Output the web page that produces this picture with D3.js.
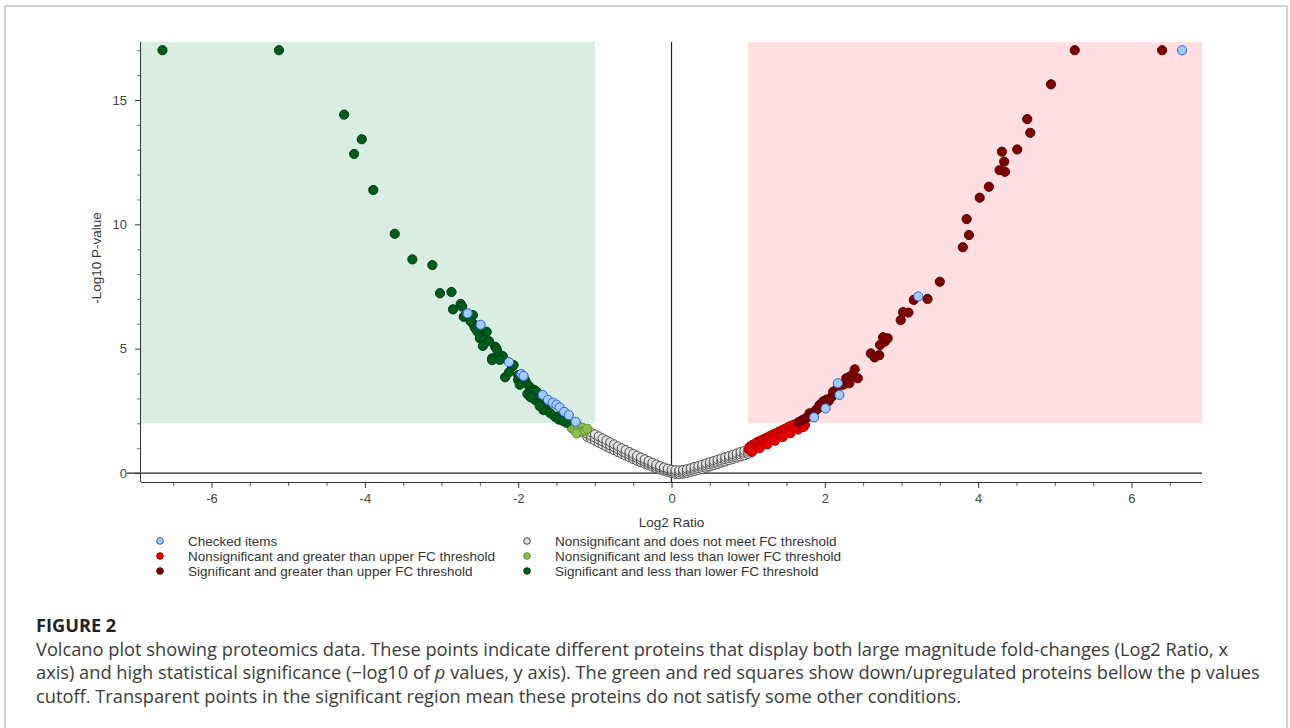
<!DOCTYPE html>
<html>
<head>
<meta charset="utf-8">
<script src="https://cdn.jsdelivr.net/npm/d3@7"></script>
<style>
  body { margin: 0; background: #fff; }
  svg { display: block; }
  .tick text { font-family: "Liberation Sans", Arial, sans-serif; font-size: 13px; fill: #444; }
</style>
</head>
<body>
<svg id="chart"></svg>
<script>
// [log2 ratio, -log10 p]
const checkedItems = [
    [-2.66, 6.42], [-2.49, 5.96], [-2.12, 4.46], [-1.96, 3.98], [-1.93, 3.90],
    [-1.68, 3.14], [-1.61, 2.94], [-1.55, 2.83], [-1.50, 2.75], [-1.46, 2.64],
    [-1.40, 2.46], [-1.34, 2.33], [-1.25, 2.06],
    [1.86, 2.24], [2.01, 2.60], [2.19, 3.14], [2.17, 3.61], [3.22, 7.10], [6.66, 17.0]
];

const nsUpper = [
    [1.01, 0.95], [1.02, 1.06], [1.04, 0.92], [1.05, 1.12], [1.07, 0.99], [1.09, 1.18],
    [1.10, 1.04], [1.12, 1.25], [1.14, 1.10], [1.16, 1.30], [1.18, 1.16], [1.20, 1.36],
    [1.22, 1.22], [1.24, 1.42], [1.26, 1.28], [1.28, 1.48], [1.30, 1.34], [1.32, 1.55],
    [1.34, 1.40], [1.36, 1.60], [1.38, 1.46], [1.40, 1.66], [1.42, 1.52], [1.44, 1.72],
    [1.46, 1.58], [1.48, 1.78], [1.50, 1.64], [1.52, 1.84], [1.54, 1.70], [1.56, 1.90],
    [1.58, 1.76], [1.60, 1.95], [1.62, 1.82], [1.65, 1.98], [1.68, 1.88], [1.71, 1.96],
    [1.74, 1.93], [1.05, 0.85], [1.15, 1.00], [1.25, 1.15], [1.35, 1.30], [1.45, 1.45],
    [1.55, 1.60], [1.65, 1.75], [1.72, 1.85]
];

const sigUpper = [
    [1.66, 2.05], [1.70, 2.12], [1.74, 2.18], [1.78, 2.25], [1.80, 2.40], [1.84, 2.35],
    [1.87, 2.48], [1.89, 2.55], [1.92, 2.62], [1.93, 2.73], [1.96, 2.80], [1.98, 2.88],
    [2.02, 2.95], [2.05, 2.90], [2.07, 3.00], [2.10, 3.10], [2.11, 3.27], [2.15, 3.35],
    [2.24, 3.55], [2.28, 3.81], [2.32, 3.87], [2.32, 3.61], [2.36, 3.95], [2.39, 4.17],
    [2.43, 3.81], [2.60, 4.81], [2.65, 4.65], [2.71, 4.74], [2.72, 5.15], [2.76, 5.46],
    [2.78, 5.28], [2.82, 5.42], [2.99, 6.15], [3.02, 6.47], [3.09, 6.45], [3.16, 6.96],
    [3.34, 7.00], [3.50, 7.69], [3.80, 9.08], [3.85, 10.21], [3.88, 9.57], [4.02, 11.07],
    [4.14, 11.51], [4.28, 12.18], [4.35, 12.11], [4.31, 12.92], [4.34, 12.52], [4.51, 13.01],
    [4.64, 14.23], [4.68, 13.68], [4.95, 15.63], [5.26, 17.0], [6.40, 17.0]
];

// grey band: [x, lower edge, middle, upper edge] of the cloud of open circles
const nsNoneBand = [
    [-1.10, 1.45, 1.58, 1.72], [-1.05, 1.38, 1.50, 1.64], [-1.00, 1.30, 1.43, 1.56],
    [-0.95, 1.22, 1.35, 1.48], [-0.90, 1.14, 1.27, 1.40], [-0.85, 1.06, 1.19, 1.32],
    [-0.80, 0.99, 1.11, 1.24], [-0.75, 0.92, 1.04, 1.16], [-0.70, 0.84, 0.96, 1.08],
    [-0.65, 0.77, 0.89, 1.00], [-0.60, 0.70, 0.81, 0.93], [-0.55, 0.63, 0.74, 0.85],
    [-0.50, 0.56, 0.67, 0.78], [-0.45, 0.49, 0.60, 0.70], [-0.40, 0.43, 0.53, 0.63],
    [-0.35, 0.37, 0.46, 0.56], [-0.30, 0.31, 0.40, 0.49], [-0.25, 0.25, 0.34, 0.42],
    [-0.20, 0.19, 0.27, 0.35], [-0.15, 0.14, 0.21, 0.29], [-0.10, 0.09, 0.16, 0.23],
    [-0.05, 0.04, 0.11, 0.18], [0.00, 0.00, 0.07, 0.14], [0.05, -0.04, 0.04, 0.12],
    [0.10, -0.05, 0.03, 0.11], [0.15, -0.03, 0.05, 0.13], [0.20, 0.00, 0.08, 0.16],
    [0.25, 0.04, 0.12, 0.20], [0.30, 0.08, 0.16, 0.25], [0.35, 0.12, 0.20, 0.29],
    [0.40, 0.16, 0.25, 0.34], [0.45, 0.21, 0.30, 0.39], [0.50, 0.26, 0.35, 0.44],
    [0.55, 0.31, 0.40, 0.49], [0.60, 0.36, 0.45, 0.54], [0.65, 0.41, 0.50, 0.59],
    [0.70, 0.46, 0.55, 0.64], [0.75, 0.51, 0.60, 0.69], [0.80, 0.56, 0.65, 0.74],
    [0.85, 0.61, 0.70, 0.79], [0.90, 0.66, 0.75, 0.85], [0.95, 0.71, 0.81, 0.90],
    [1.00, 0.77, 0.86, 0.95]
];
const nsNone = nsNoneBand.flatMap(r => [[r[0], r[1]], [r[0], r[2]], [r[0], r[3]]]);

const nsLower = [
    [-1.30, 1.80], [-1.26, 1.74], [-1.22, 1.90], [-1.16, 1.82], [-1.20, 1.64],
    [-1.13, 1.70], [-1.24, 1.60], [-1.10, 1.78]
];

const sigLower = [
    [-6.64, 17.0], [-5.12, 17.0], [-4.27, 14.41], [-4.04, 13.42], [-4.14, 12.83],
    [-3.89, 11.38], [-3.61, 9.62], [-3.38, 8.59], [-3.12, 8.36], [-3.02, 7.23],
    [-2.87, 7.28], [-2.85, 6.58], [-2.75, 6.80], [-2.73, 6.69], [-2.71, 6.28],
    [-2.70, 6.31], [-2.59, 6.35], [-2.58, 5.99], [-2.57, 5.88], [-2.56, 5.82],
    [-2.53, 5.68], [-2.46, 5.68], [-2.41, 5.68], [-2.50, 5.42], [-2.44, 5.35],
    [-2.46, 5.11], [-2.30, 5.08], [-2.28, 4.99], [-2.26, 4.81], [-2.34, 4.61],
    [-2.34, 4.54], [-2.20, 4.70], [-2.08, 4.27], [-2.06, 4.34], [-2.17, 3.85],
    [-2.00, 3.94], [-2.00, 3.74], [-1.95, 3.67], [-1.91, 3.74], [-1.89, 3.61],
    [-1.85, 3.47], [-1.88, 3.18], [-1.82, 3.34], [-1.79, 3.34], [-1.80, 3.14],
    [-1.76, 3.07], [-1.76, 3.27], [-1.78, 2.94], [-1.74, 3.00], [-1.71, 2.87],
    [-1.69, 2.80], [-1.67, 2.67], [-1.63, 2.53], [-1.67, 2.53], [-1.52, 2.26],
    [-1.45, 2.33], [-1.37, 2.02], [-2.62, 6.10], [-2.38, 5.30], [-2.24, 4.55],
    [-2.12, 4.05], [-1.98, 3.55], [-1.84, 3.05], [-1.72, 2.70], [-1.58, 2.40],
    [-1.47, 2.15], [-1.42, 2.10]
];

const xMajor = [-6, -4, -2, 0, 2, 4, 6];
const yMajor = [0, 5, 10, 15];

const legendItems = [
    { label: 'Checked items', fill: '#a3ccff', stroke: '#2d5fd6' },
    { label: 'Nonsignificant and greater than upper FC threshold', fill: '#e60000', stroke: '#b00000' },
    { label: 'Significant and greater than upper FC threshold', fill: '#7f0000', stroke: '#5a0000' },
    { label: 'Nonsignificant and does not meet FC threshold', fill: '#e0e0e0', stroke: '#4a4a4a' },
    { label: 'Nonsignificant and less than lower FC threshold', fill: '#8cc04b', stroke: '#5d8f2c' },
    { label: 'Significant and less than lower FC threshold', fill: '#005c1c', stroke: '#003d12' }
];

const captionLines = [
    'Volcano plot showing proteomics data. These points indicate different proteins that display both large magnitude fold-changes (Log2 Ratio, x',
    'axis) and high statistical significance (\u2212log10 of |p| values, y axis). The green and red squares show down/upregulated proteins bellow the p values',
    'cutoff. Transparent points in the significant region mean these proteins do not satisfy some other conditions.'
];

const W = 1290, H = 728;
const svg = d3.select('#chart').attr('width', W).attr('height', H);

// outer frame of the figure panel
svg.append('rect')
    .attr('x', 5).attr('y', 6).attr('width', W - 8).attr('height', H + 20)
    .attr('fill', 'none').attr('stroke', '#c4c4c4').attr('stroke-width', 1.5);

const plotLeft = 141, plotRight = 1202, plotTop = 42, plotBottom = 482;
const x = d3.scaleLinear().domain([-6.92, 6.92]).range([plotLeft, plotRight]);
const y = d3.scaleLinear().domain([-0.36, 17.33]).range([plotBottom, plotTop]);

// threshold regions
svg.append('rect')
    .attr('x', x(-6.92)).attr('y', y(17.33))
    .attr('width', x(-1) - x(-6.92)).attr('height', y(2) - y(17.33))
    .attr('fill', '#d9eee0');
svg.append('rect')
    .attr('x', x(1)).attr('y', y(17.33))
    .attr('width', x(6.92) - x(1)).attr('height', y(2) - y(17.33))
    .attr('fill', '#ffdfdf');

// axes
const xMinor = d3.range(-6.5, 7, 0.5).filter(v => !xMajor.includes(v));
const yMinor = d3.range(1, 18, 1).filter(v => !yMajor.includes(v));

svg.append('g')
    .attr('transform', `translate(0,${plotBottom})`)
    .call(d3.axisBottom(x).tickValues(xMinor).tickSize(4).tickFormat(''))
    .call(g => g.select('.domain').remove())
    .call(g => g.selectAll('line').attr('stroke', '#555'));
svg.append('g')
    .attr('transform', `translate(0,${plotBottom})`)
    .call(d3.axisBottom(x).tickValues(xMajor).tickSize(6).tickPadding(6).tickFormat(d => String(d)))
    .call(g => g.select('.domain').attr('d', `M${plotLeft},0.5H${plotRight}`).attr('stroke', '#333'))
    .call(g => g.selectAll('line').attr('stroke', '#333'));

svg.append('g')
    .attr('transform', `translate(${plotLeft},0)`)
    .call(d3.axisLeft(y).tickValues(yMinor).tickSize(4).tickFormat(''))
    .call(g => g.select('.domain').remove())
    .call(g => g.selectAll('line').attr('stroke', '#777'));
svg.append('g')
    .attr('transform', `translate(${plotLeft},0)`)
    .call(d3.axisLeft(y).tickValues(yMajor).tickSize(6).tickPadding(8))
    .call(g => g.select('.domain').attr('d', `M-0.5,${plotTop}V${plotBottom}`).attr('stroke', '#333'))
    .call(g => g.selectAll('line').attr('stroke', '#333'));

// zero lines
svg.append('line')
    .attr('x1', plotLeft - 14).attr('x2', plotRight)
    .attr('y1', y(0)).attr('y2', y(0))
    .attr('stroke', '#222').attr('stroke-width', 1.2);
svg.append('line')
    .attr('x1', x(0)).attr('x2', x(0))
    .attr('y1', plotTop).attr('y2', plotBottom)
    .attr('stroke', '#222').attr('stroke-width', 1.2);

// axis titles
svg.append('text')
    .attr('x', x(0)).attr('y', 527)
    .attr('text-anchor', 'middle')
    .style('font-family', '"Liberation Sans", Arial, sans-serif')
    .style('font-size', '13.5px').attr('fill', '#333')
    .text('Log2 Ratio');
svg.append('text')
    .attr('transform', 'translate(101,258) rotate(-90)')
    .attr('text-anchor', 'middle')
    .style('font-family', '"Liberation Sans", Arial, sans-serif')
    .style('font-size', '13.5px').attr('fill', '#333')
    .text('-Log10 P-value');

// points
function drawPoints(data, item, r) {
    svg.append('g')
        .selectAll('circle')
        .data(data)
        .join('circle')
        .attr('cx', d => x(d[0]))
        .attr('cy', d => y(d[1]))
        .attr('r', r)
        .attr('fill', item.fill)
        .attr('stroke', item.stroke)
        .attr('stroke-width', 1);
}
drawPoints(nsNone, legendItems[3], 4.4);
drawPoints(nsUpper, legendItems[1], 4.6);
drawPoints(nsLower, legendItems[4], 4.6);
drawPoints(sigLower, legendItems[5], 4.6);
drawPoints(sigUpper, legendItems[2], 4.6);
drawPoints(checkedItems, legendItems[0], 4.6);

// legend
const legend = svg.append('g')
    .style('font-family', '"Liberation Sans", Arial, sans-serif')
    .style('font-size', '13.5px');
legendItems.forEach((item, i) => {
    const col = Math.floor(i / 3), row = i % 3;
    const gx = col === 0 ? 160 : 527;
    const gy = 541 + row * 15;
    legend.append('circle')
        .attr('cx', gx).attr('cy', gy).attr('r', 3.3)
        .attr('fill', item.fill).attr('stroke', item.stroke).attr('stroke-width', 1);
    legend.append('text')
        .attr('x', gx + 28).attr('y', gy + 5)
        .attr('fill', '#333')
        .text(item.label);
});

// caption
svg.append('text')
    .attr('x', 36).attr('y', 632)
    .style('font-family', '"Open Sans", "Noto Sans", sans-serif')
    .style('font-size', '18.2px').style('font-weight', 700)
    .attr('fill', '#222')
    .text('FIGURE 2');

const caption = svg.append('text')
    .style('font-family', '"Open Sans", "Noto Sans", sans-serif')
    .style('font-size', '18.25px')
    .attr('fill', '#3a3a3a');
captionLines.forEach((line, i) => {
    const t = caption.append('tspan').attr('x', 36).attr('y', 656 + i * 23.3);
    line.split('|').forEach((part, j) => {
        t.append('tspan').style('font-style', j % 2 ? 'italic' : null).text(part);
    });
});
</script>
</body>
</html>
